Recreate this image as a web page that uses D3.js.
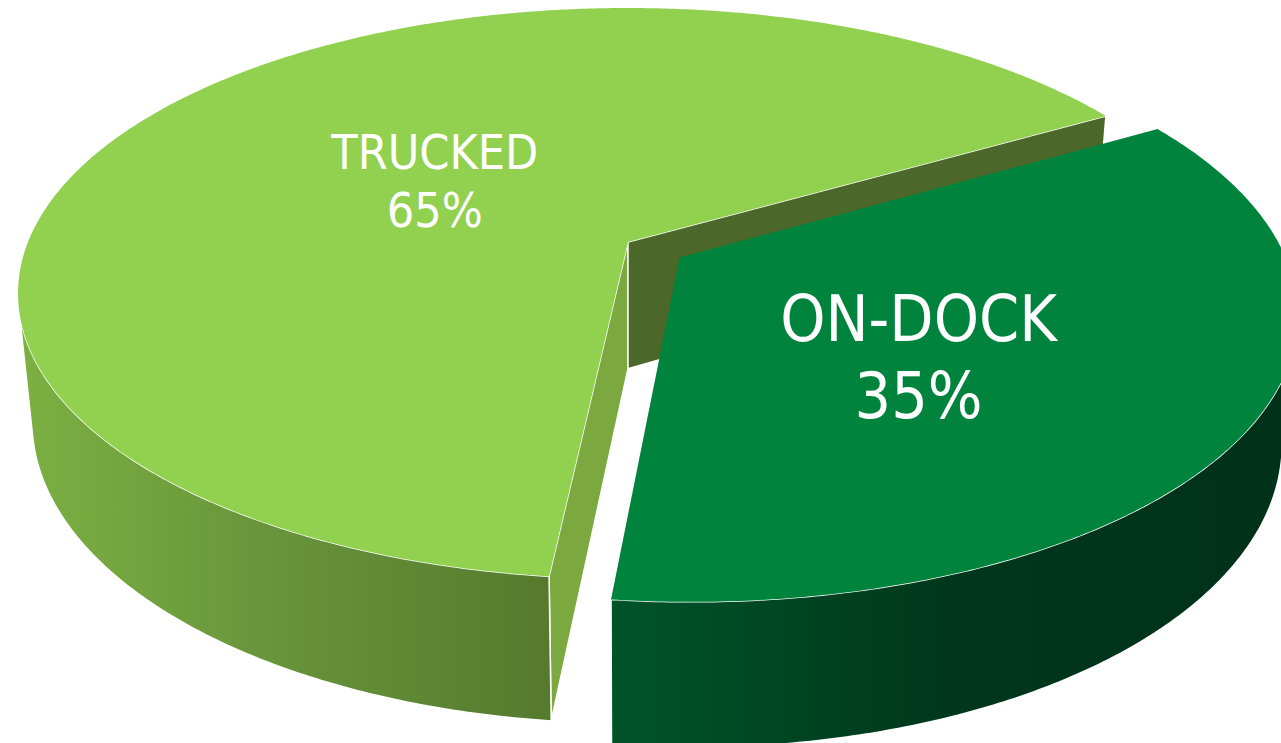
<!DOCTYPE html>
<html>
<head>
<meta charset="utf-8">
<script src="https://cdn.jsdelivr.net/npm/d3@7"></script>
<style>
  body { margin: 0; background: #fff; overflow: hidden; }
  svg { display: block; }
  .lbl { fill: #fff; font-family: "DejaVu Sans Condensed", "DejaVu Sans", sans-serif; font-stretch: condensed; text-anchor: middle; }
</style>
</head>
<body>
<script>
// data
const categories = ["ON-DOCK", "TRUCKED"];
const values = [35, 65];
const labels = ["35%", "65%"];

const W = 1281, H = 743;

// 3d view of the pie
const cx = 628, cy = 242;     // screen point of the pie centre (top face)
const R = 600;                // radius
const depth = 146;            // thickness
const tilt = 27.4 * Math.PI / 180;
const camD = 2960;            // camera distance (perspective)
const firstAngle = 60.2 * Math.PI / 180;

const sinT = Math.sin(tilt), cosT = Math.cos(tilt);
const cam = [0, camD * sinT, camD * cosT];

const sliceStyle = [
  { top: "#00843d", wall: ["#005428", "#00371c", "#00311a"], startFace: "#00602d", endFace: "#004a24",
    explode: 61, fs: 64, labelR: 0.5, labelTurn: 10 },
  { top: "#92d050", wall: ["#7cb042", "#67933a", "#557a2e"], startFace: "#7ba940", endFace: "#4b6729",
    explode: 0, fs: 48, labelR: 0.4, labelTurn: 0 }
];

function project(X, Y, Z) {
  const v = -Y * cosT + Z * sinT;
  const w = Y * sinT + Z * cosT;
  const s = camD / (camD - w);
  return [cx + X * s, cy + v * s];
}

const pie = d3.pie().sort(null).value(d => d)
  .startAngle(firstAngle).endAngle(firstAngle + 2 * Math.PI);
const arcs = pie(values);

const svg = d3.select("body").append("svg")
  .attr("width", W).attr("height", H);

const defs = svg.append("defs");

const line = d3.line();
const step = Math.PI / 360;

function rimPoints(o, a0, a1, Y) {
  const pts = [];
  const n = Math.max(2, Math.ceil(Math.abs(a1 - a0) / step));
  for (let i = 0; i <= n; i++) {
    const a = a0 + (a1 - a0) * i / n;
    pts.push(project(o[0] + R * Math.sin(a), Y, o[1] - R * Math.cos(a)));
  }
  return pts;
}

// wall of angle a faces the camera?
function wallVisible(o, a) {
  const nx = Math.sin(a), nz = -Math.cos(a);
  return nx * (cam[0] - o[0]) + nz * (cam[2] - o[1]) - R > 0;
}

function faceVisible(o, nAng) {
  const nx = Math.sin(nAng), nz = -Math.cos(nAng);
  return nx * (cam[0] - o[0]) + nz * (cam[2] - o[1]) > 0;
}

const slices = arcs.map((d, i) => {
  const mid = (d.startAngle + d.endAngle) / 2;
  const st = sliceStyle[i];
  const o = [st.explode * Math.sin(mid), -st.explode * Math.cos(mid)];
  return { d, i, mid, st, o, name: categories[i], label: labels[i] };
});

// back to front: slices closer to the camera last
slices.sort((a, b) => a.o[1] - b.o[1]);

slices.forEach(sl => {
  const { d, st, o, i } = sl;
  const g = svg.append("g");

  const grad = defs.append("linearGradient").attr("id", "wall" + i)
    .attr("x1", 0).attr("x2", 1).attr("y1", 0).attr("y2", 0);
  st.wall.forEach((c, k) => grad.append("stop")
    .attr("offset", k / (st.wall.length - 1)).attr("stop-color", c));

  const cTop = project(o[0], 0, o[1]);
  const cBot = project(o[0], -depth, o[1]);

  // radial faces
  [[d.startAngle, d.startAngle - Math.PI / 2, st.startFace],
   [d.endAngle, d.endAngle + Math.PI / 2, st.endFace]].forEach(([a, nA, col]) => {
    if (!faceVisible(o, nA)) return;
    const X = o[0] + R * Math.sin(a), Z = o[1] - R * Math.cos(a);
    const pts = [cTop, project(X, 0, Z), project(X, -depth, Z), cBot];
    g.append("path").attr("d", line(pts) + "Z")
      .attr("fill", col).attr("stroke", "#fff").attr("stroke-width", 1.5)
      .attr("stroke-linejoin", "round");
  });

  // outer wall, visible runs only
  const runs = [];
  let cur = null;
  const n = Math.ceil((d.endAngle - d.startAngle) / (step / 4));
  for (let k = 0; k <= n; k++) {
    const a = d.startAngle + (d.endAngle - d.startAngle) * k / n;
    if (wallVisible(o, a)) {
      if (!cur) { cur = [a, a]; runs.push(cur); }
      cur[1] = a;
    } else cur = null;
  }
  runs.forEach(([a0, a1]) => {
    const pts = rimPoints(o, a0, a1, 0).concat(rimPoints(o, a1, a0, -depth));
    g.append("path").attr("d", line(pts) + "Z")
      .attr("fill", `url(#wall${i})`).attr("stroke", "#fff").attr("stroke-width", 1.5)
      .attr("stroke-linejoin", "round");
  });

  // top
  const topPts = [cTop].concat(rimPoints(o, d.startAngle, d.endAngle, 0));
  g.append("path").attr("d", line(topPts) + "Z").attr("fill", st.top);

  // label
  const la = sl.mid + st.labelTurn * Math.PI / 180;
  const lr = st.labelR * R;
  const p = project(o[0] + lr * Math.sin(la), 0, o[1] - lr * Math.cos(la));
  const t = g.append("text").attr("class", "lbl").attr("font-size", st.fs);
  t.append("tspan").attr("x", p[0]).attr("y", p[1] - 0.3 * st.fs).text(sl.name);
  t.append("tspan").attr("x", p[0]).attr("y", p[1] + 0.9 * st.fs).text(sl.label);
});
</script>
</body>
</html>
